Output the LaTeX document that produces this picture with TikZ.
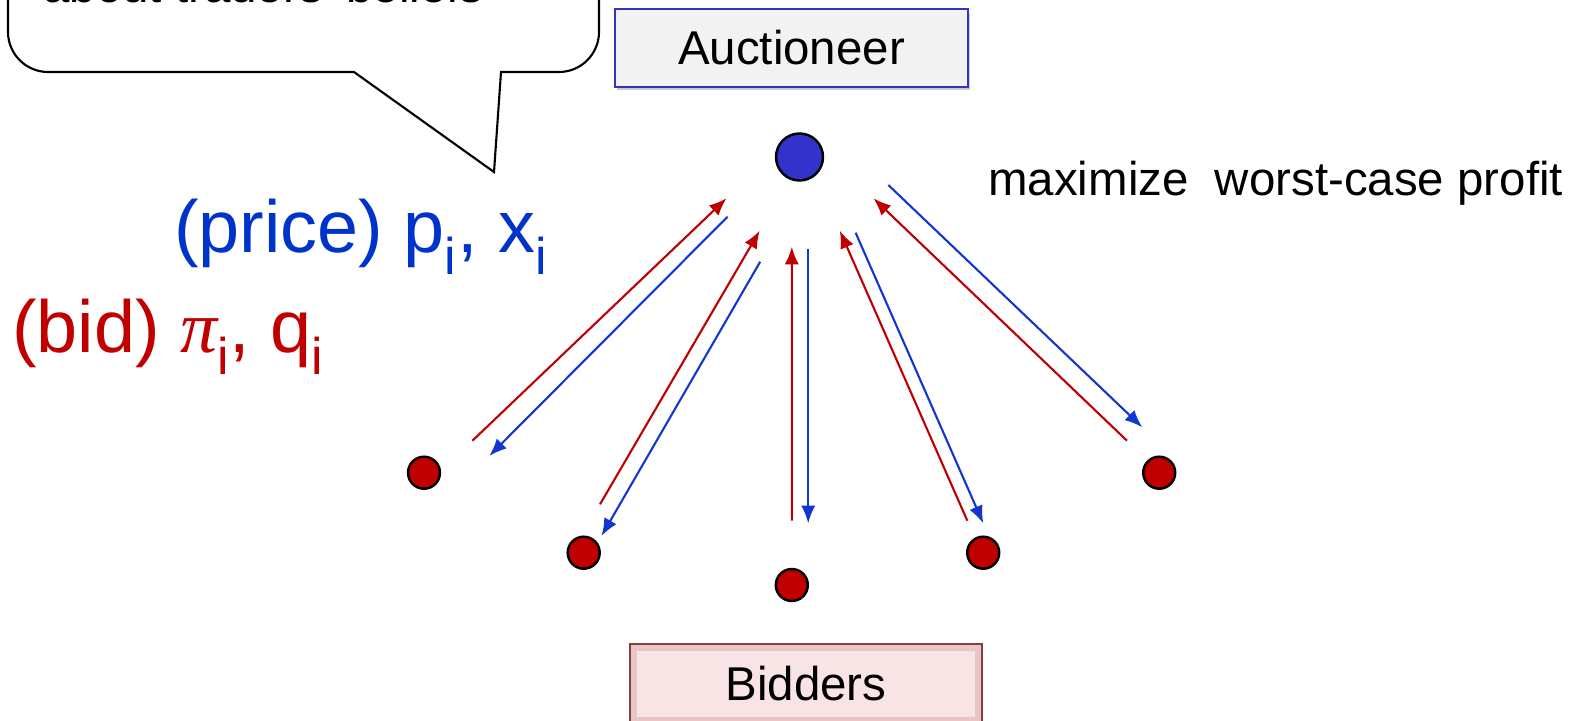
\documentclass[tikz,border=0pt]{standalone}
\usepackage{fontspec}
\setmainfont{Liberation Sans}
\newfontfamily\greekserif{Liberation Serif}
\usetikzlibrary{arrows.meta,shadows,calc}
\definecolor{bidred}{HTML}{C00000}
\definecolor{priceblue}{HTML}{0033CC}
\definecolor{arrowblue}{HTML}{1236D0}
\definecolor{auctblue}{HTML}{3333CC}
\definecolor{auctfill}{HTML}{F2F2F2}
\definecolor{bidfill}{HTML}{F8E4E4}
\definecolor{bidbevel}{HTML}{EBC4C4}
\definecolor{bidedge}{HTML}{7A4444}
\begin{document}
\begin{tikzpicture}[x=0.02cm,y=-0.02cm,
    big/.style={font=\fontsize{42}{50}\selectfont},
    label/.style={font=\fontsize{27}{32}\selectfont},
    bidder/.style={circle,draw=black,line width=1.4pt,fill=bidred,minimum size=0.64cm,inner sep=0pt},
    bidarrow/.style={draw=bidred,line width=1.2pt,-{Latex[length=10pt,width=8pt]}},
    pricearrow/.style={draw=arrowblue,line width=1.2pt,-{Latex[length=10pt,width=8pt]}}]
    \useasboundingbox (0,0) rectangle (1581,720);
    %% Callout
    \draw[line width=1.2pt,fill=white] (354,72) -- (48,72) .. controls (26,72) and (8,54) .. (8,32) -- (8,-80) -- (599,-80) -- (599,32) .. controls (599,54) and (581,72) .. (559,72) -- (501,72) -- (494,172) -- cycle;
    \node[label,anchor=base west,inner sep=0pt] (belief) at (43,3) {about traders' beliefs};
    %% Auctioneer
    \node[label,draw=auctblue,line width=1.3pt,fill=auctfill,minimum width=7.06cm,minimum height=1.55cm,
        drop shadow={shadow xshift=0.04cm,shadow yshift=-0.07cm,opacity=0.35,fill=black!60}] (auct) at (791.5,48) {Auctioneer};
    \node[circle,draw=black,line width=1.4pt,fill=auctblue,minimum size=0.94cm,inner sep=0pt] (adot) at (799.5,157) {};
    \node[label,anchor=base west,inner sep=0pt] (goal) at (988,195) {maximize\ \ worst-case profit};
    %% Messages
    \node[big,text=priceblue,anchor=base west,inner sep=0pt] (price) at (174,252) {(price) p\textsubscript{i}, x\textsubscript{i}};
    \node[big,text=bidred,anchor=base west,inner sep=0pt] (bid) at (12,352) {(bid) {\greekserif\itshape π}\textsubscript{i}, q\textsubscript{i}};
    %% Bidders
    \node[bidder] (b1) at (424,472.7) {};
    \node[bidder] (b2) at (583.7,552.7) {};
    \node[bidder] (b3) at (791.8,585) {};
    \node[bidder] (b4) at (983.2,552.7) {};
    \node[bidder] (b5) at (1159.2,472.7) {};
    \node[label,draw=bidedge,line width=0.8pt,fill=bidbevel,minimum width=7.04cm,minimum height=1.6cm,
        path picture={\fill[bidfill] ($(path picture bounding box.north west)+(0.14cm,-0.14cm)$) rectangle ($(path picture bounding box.south east)+(-0.14cm,0.14cm)$);}] (bidbox) at (806,684) {Bidders};
    %% Arrows
    \foreach \k/\rt/\rh/\bt/\bh in {1/{48.4,-32}/{-73,41.3}/{-71.9,59.7}/{65.3,-16.7},
        2/{16.3,-48.4}/{-39.8,73.7}/{-39.3,104.7}/{17.8,-16.7},
        3/{0,-64.3}/{-7.7,89.7}/{8.7,92}/{16.4,-61.7},
        4/{-15.9,-32}/{40.3,73.7}/{56.1,75.7}/{0,-29.4},
        5/{-32.2,-32}/{74,41.3}/{88.8,28}/{-16.9,-45.4}}
    {
        \draw[bidarrow] ([shift={(\rt)}]b\k.center) -- ([shift={(\rh)}]adot.center);
        \draw[pricearrow] ([shift={(\bt)}]adot.center) -- ([shift={(\bh)}]b\k.center);
    }
\end{tikzpicture}
\end{document}
